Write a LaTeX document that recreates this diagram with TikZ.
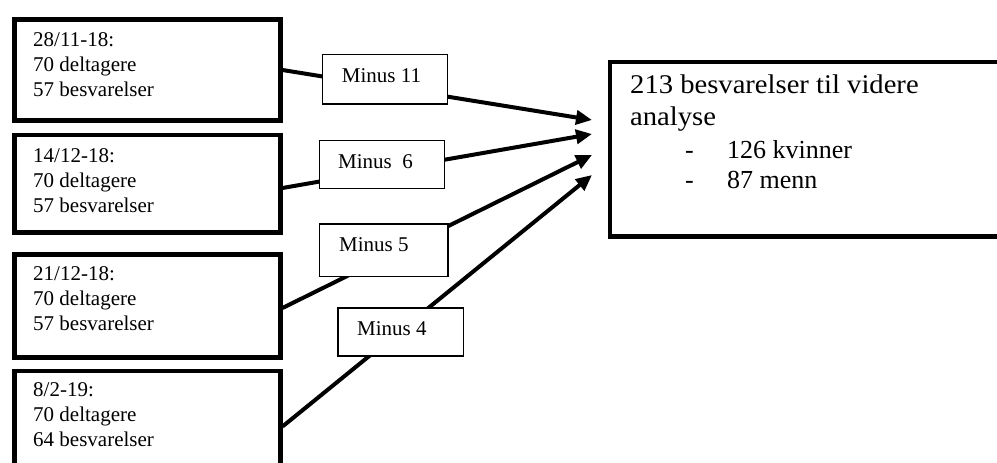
\documentclass[tikz,border=0pt]{standalone}
\usepackage{fontspec}
\setmainfont{Liberation Serif}
\newfontfamily\headfont[FakeStretch=1.06]{Liberation Serif}
\usetikzlibrary{arrows.meta}
\tikzset{
  bigbox/.style={draw=black, line width=4.5pt, fill=white, rectangle, inner sep=0pt, anchor=north west},
  minusbox/.style={draw=black, line width=1.2pt, fill=white, rectangle, inner sep=0pt, anchor=north west},
  txt/.style={anchor=base west, inner sep=0pt, font=\fontsize{21}{25}\selectfont, align=left},
  conn/.style={line width=4pt, -{Triangle[length=16pt,width=14pt]}},
}
\begin{document}
\begin{tikzpicture}[x=1pt,y=-1pt]
\useasboundingbox (0,0) rectangle (997,463);
\clip (0,0) rectangle (997,463);
\fill[white] (0,0) rectangle (997,463);
% left boxes
\node[bigbox, minimum width=266pt, minimum height=101pt] (b1) at (12,17) {};
\node[bigbox, minimum width=266pt, minimum height=97.5pt] (b2) at (12,132.5) {};
\node[bigbox, minimum width=266pt, minimum height=103pt] (b3) at (12,252) {};
\node[bigbox, minimum width=266pt, minimum height=110pt] (b4) at (12,368.5) {};
% right box
\node[bigbox, minimum width=402pt, minimum height=174.5pt] (R) at (607.5,59.5) {};
% texts of left boxes (base anchor = last line)
\node[txt] (t1) at (33,96.5) {28/11-18:\\70 deltagere\\57 besvarelser};
\node[txt] (t2) at (33,212) {14/12-18:\\70 deltagere\\57 besvarelser};
\node[txt] (t3) at (33,330) {21/12-18:\\70 deltagere\\57 besvarelser};
\node[txt] (t4) at (33,446.5) {8/2-19:\\70 deltagere\\64 besvarelser};
% right box text
\node[anchor=base west, inner sep=0pt, font=\headfont\fontsize{27}{32}\selectfont, align=left] (rh) at (630,125) {213 besvarelser til videre\\analyse};
\node[anchor=base west, inner sep=0pt, font=\fontsize{26}{30}\selectfont] (d1) at (685,158.3) {-};
\node[anchor=base west, inner sep=0pt, font=\fontsize{26}{30}\selectfont] (l1) at (727,158.3) {126 kvinner};
\node[anchor=base west, inner sep=0pt, font=\fontsize{26}{30}\selectfont] (d2) at (685,188.3) {-};
\node[anchor=base west, inner sep=0pt, font=\fontsize{26}{30}\selectfont] (l2) at (727,188.3) {87 menn};
% connector end points
\coordinate (s1) at ([yshift=-53pt]b1.north east);
\coordinate (s2) at ([yshift=-55.5pt]b2.north east);
\coordinate (s3) at ([yshift=-56pt]b3.north east);
\coordinate (s4) at ([yshift=-58pt]b4.north east);
\coordinate (e1) at ([xshift=-15.5pt,yshift=-60.5pt]R.north west);
\coordinate (e2) at ([xshift=-15.5pt,yshift=-74.5pt]R.north west);
\coordinate (e3) at ([xshift=-15.5pt,yshift=-95.5pt]R.north west);
\coordinate (e4) at ([xshift=-15.5pt,yshift=-115.5pt]R.north west);
\draw[conn] (s1) -- (e1);
\draw[conn] (s2) -- (e2);
\draw[conn] (s3) -- (e3);
\draw[conn] (s4) -- (e4);
% minus boxes
\node[minusbox, minimum width=125pt, minimum height=49.3pt] (m1) at (321.7,54) {};
\node[minusbox, minimum width=125pt, minimum height=47.7pt] (m2) at (319,140) {};
\node[minusbox, minimum width=128.3pt, minimum height=52.7pt] (m3) at (319,223.3) {};
\node[minusbox, minimum width=125.4pt, minimum height=48pt] (m4) at (337.3,307.3) {};
\node[txt] (mt1) at (341.7,82) {Minus 11};
\node[txt] (mt2) at (338,168) {Minus\ \ 6};
\node[txt] (mt3) at (339,251.5) {Minus 5};
\node[txt] (mt4) at (357,335) {Minus 4};
\end{tikzpicture}
\end{document}
